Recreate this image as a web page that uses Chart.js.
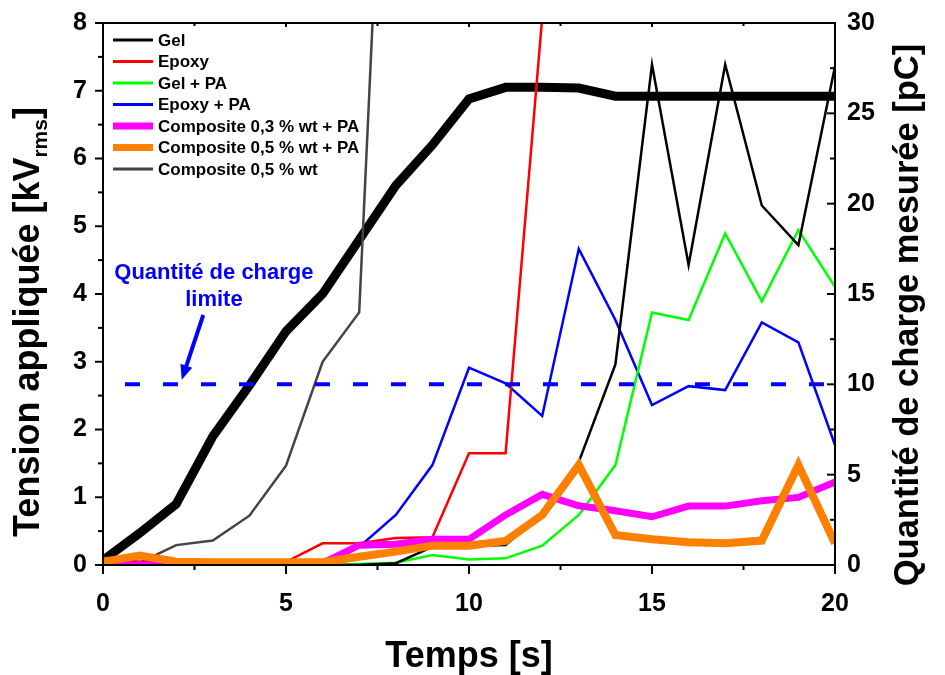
<!DOCTYPE html>
<html lang="fr">
<head>
<meta charset="utf-8">
<title>Tension appliquée et quantité de charge mesurée</title>
<script src="https://cdn.jsdelivr.net/npm/chart.js@4.4.1/dist/chart.umd.min.js"></script>
<style>
  html, body { margin: 0; padding: 0; background: #fff; }
  #wrap { width: 945px; height: 675px; }
</style>
</head>
<body>
<div id="wrap"><canvas id="chart" width="945" height="675"></canvas></div>
<script>
/**
 * Data
 */
const times = [0, 1, 2, 3, 4, 5, 6, 7, 8, 9, 10, 11, 12, 13, 14, 15, 16, 17, 18, 19, 20];

// Applied voltage [kV rms] - left axis
const voltage = [0.07, 0.47, 0.9, 1.9, 2.65, 3.45, 4.0, 4.8, 5.6, 6.2, 6.88, 7.05, 7.05, 7.04, 6.92, 6.92, 6.92, 6.92, 6.92, 6.92, 6.92];

// Measured charge [pC] - right axis
const gel = [0, 0, 0, 0, 0, 0, 0, 0, 0.1, 1.0, 1.05, 1.1, 2.8, 5.7, 11.1, 27.7, 16.6, 27.7, 19.9, 17.7, 27.6];
const epoxy = [0.4, 0.18, 0.18, 0.18, 0.18, 0.18, 1.2, 1.2, 1.5, 1.53, 6.18, 6.18, 30.3, null, null, null, null, null, null, null, null];
const gelPA = [0, 0, 0, 0, 0, 0, 0, 0.05, 0.13, 0.55, 0.31, 0.37, 1.07, 2.77, 5.53, 13.98, 13.56, 18.36, 14.6, 18.54, 15.4];
const epoxyPA = [0, 0, 0, 0, 0, 0, 0, 1.0, 2.77, 5.53, 10.92, 10.05, 8.25, 17.5, 13.56, 8.85, 9.9, 9.68, 13.43, 12.32, 6.64];
const composite03PA = [0, 0, 0, 0, 0, 0, 0.1, 1.1, 1.15, 1.42, 1.42, 2.77, 3.91, 3.28, 3.0, 2.67, 3.26, 3.26, 3.56, 3.74, 4.6];
const composite05PA = [0.18, 0.52, 0.18, 0.15, 0.15, 0.15, 0.15, 0.46, 0.74, 1.07, 1.07, 1.33, 2.77, 5.53, 1.66, 1.42, 1.26, 1.2, 1.35, 5.53, 1.2];
const composite05 = [0.13, 0.13, 1.1, 1.35, 2.73, 5.5, 11.25, 13.98, 58, null, null, null, null, null, null, null, null, null, null, null, null];

// Charge limit (dashed line)
const limitTimes = [0.6, 20];
const limitCharge = [10, 10];

// Tick labels
const timeTicks = [0, 5, 10, 15, 20];
const voltageTicks = [0, 1, 2, 3, 4, 5, 6, 7, 8];
const chargeTicks = [0, 5, 10, 15, 20, 25, 30];

const seriesNames = ['Gel', 'Epoxy', 'Gel + PA', 'Epoxy + PA', 'Composite 0,3 % wt + PA', 'Composite 0,5 % wt + PA', 'Composite 0,5 % wt'];

const FONT = '"Liberation Sans", Arial, Helvetica, sans-serif';

document.addEventListener('DOMContentLoaded', function() {
    initializeChart();
});

/**
 * Pair x and y arrays into Chart.js points
 */
function toPoints(xs, ys) {
    return xs.map((x, i) => ({ x: x, y: ys[i] }));
}

/**
 * Build one line dataset
 */
function lineSet(label, xs, ys, color, width, axis, extra) {
    return Object.assign({
        label: label,
        data: toPoints(xs, ys),
        borderColor: color,
        backgroundColor: color,
        borderWidth: width,
        pointRadius: 0,
        tension: 0,
        fill: false,
        spanGaps: false,
        yAxisID: axis,
        borderJoinStyle: 'miter',
        borderCapStyle: 'butt'
    }, extra || {});
}

/**
 * Fix the box size of a scale and drop its label overflow padding
 */
function fixBox(size, horizontal) {
    return function(s) {
        if (horizontal) {
            s.height = size;
        } else {
            s.width = size;
        }
        s.paddingTop = 0;
        s.paddingBottom = 0;
        s.paddingLeft = 0;
        s.paddingRight = 0;
    };
}

/**
 * Frame, minor ticks, axis titles, legend and the note
 */
const decorPlugin = {
    id: 'decor',
    afterDatasetsDraw(chart) {
        const ctx = chart.ctx;
        const a = chart.chartArea;
        const sx = chart.scales.x;
        const sy = chart.scales.y;
        const sy2 = chart.scales.y2;

        ctx.save();
        ctx.strokeStyle = '#000';
        ctx.lineWidth = 2;
        ctx.strokeRect(a.left, a.top, a.right - a.left, a.bottom - a.top);

        const seg = (x1, y1, x2, y2) => {
            ctx.beginPath();
            ctx.moveTo(x1, y1);
            ctx.lineTo(x2, y2);
            ctx.stroke();
        };

        // time axis: majors + halfway minors
        timeTicks.forEach((t, i) => {
            const px = sx.getPixelForValue(t);
            seg(px, a.bottom, px, a.bottom + 9);
            seg(px, a.top, px, a.top + 4);
            if (i < timeTicks.length - 1) {
                const mx = sx.getPixelForValue((t + timeTicks[i + 1]) / 2);
                seg(mx, a.bottom, mx, a.bottom + 5);
                seg(mx, a.top, mx, a.top + 3);
            }
        });

        // voltage axis (outside)
        voltageTicks.forEach((v, i) => {
            const py = sy.getPixelForValue(v);
            seg(a.left - 8, py, a.left, py);
            if (i < voltageTicks.length - 1) {
                const my = sy.getPixelForValue((v + voltageTicks[i + 1]) / 2);
                seg(a.left - 5, my, a.left, my);
            }
        });

        // charge axis (inside)
        chargeTicks.forEach((v, i) => {
            const py = sy2.getPixelForValue(v);
            seg(a.right - 8, py, a.right, py);
            if (i < chargeTicks.length - 1) {
                const my = sy2.getPixelForValue((v + chargeTicks[i + 1]) / 2);
                seg(a.right - 5, my, a.right, my);
            }
        });

        drawTitles(ctx, a);
        drawLegend(ctx, chart);
        drawNote(ctx, sx, sy, sy2);
        ctx.restore();
    }
};

/**
 * Axis titles (left title has a subscript)
 */
function drawTitles(ctx, a) {
    ctx.fillStyle = '#000';

    // x title
    ctx.font = 'bold 36px ' + FONT;
    ctx.textAlign = 'center';
    ctx.textBaseline = 'alphabetic';
    ctx.fillText('Temps [s]', (a.left + a.right) / 2, 667);

    // left title
    const main = 'Tension appliquée [kV';
    ctx.save();
    ctx.translate(39, 322);
    ctx.rotate(-Math.PI / 2);
    ctx.font = 'bold 36px ' + FONT;
    const wMain = ctx.measureText(main).width;
    const wEnd = ctx.measureText(']').width;
    ctx.font = 'bold 21px ' + FONT;
    const wSub = ctx.measureText('rms').width;
    let x0 = -(wMain + wSub + wEnd) / 2;
    ctx.textAlign = 'left';
    ctx.font = 'bold 36px ' + FONT;
    ctx.fillText(main, x0, 0);
    x0 += wMain;
    ctx.font = 'bold 21px ' + FONT;
    ctx.fillText('rms', x0, 8);
    x0 += wSub;
    ctx.font = 'bold 36px ' + FONT;
    ctx.fillText(']', x0, 0);
    ctx.restore();

    // right title
    ctx.save();
    ctx.translate(918, 315);
    ctx.rotate(-Math.PI / 2);
    ctx.font = 'bold 34.5px ' + FONT;
    ctx.textAlign = 'center';
    ctx.fillText('Quantité de charge mesurée [pC]', 0, 0);
    ctx.restore();
}

/**
 * Legend inside the plot, top-left
 */
function drawLegend(ctx, chart) {
    const legendWidths = [3, 3, 3, 3, 7, 7, 3];
    const x0 = chart.chartArea.left + 10;
    const y0 = chart.chartArea.top + 17;
    const rowH = 21.5;

    ctx.font = 'bold 17px ' + FONT;
    ctx.textAlign = 'left';
    ctx.textBaseline = 'middle';
    seriesNames.forEach((name, i) => {
        const ds = chart.data.datasets.find(d => d.label === name);
        const y = y0 + i * rowH;
        ctx.strokeStyle = ds.borderColor;
        ctx.lineWidth = legendWidths[i];
        ctx.beginPath();
        ctx.moveTo(x0, y);
        ctx.lineTo(x0 + 40, y);
        ctx.stroke();
        ctx.fillStyle = '#000';
        ctx.fillText(name, x0 + 45, y + 1);
    });
}

/**
 * "Quantité de charge limite" label with arrow
 */
function drawNote(ctx, sx, sy, sy2) {
    const noteX = sx.getPixelForValue(3.03);
    ctx.fillStyle = '#0000ff';
    ctx.strokeStyle = '#0000ff';
    ctx.font = 'bold 22px ' + FONT;
    ctx.textAlign = 'center';
    ctx.textBaseline = 'alphabetic';
    ctx.fillText('Quantité de charge', noteX, sy.getPixelForValue(4.22));
    ctx.fillText('limite', noteX, sy.getPixelForValue(3.82));

    const x1 = sx.getPixelForValue(2.74), y1 = sy.getPixelForValue(3.69);
    const x2 = sx.getPixelForValue(2.15), y2 = sy2.getPixelForValue(10.25);
    const ang = Math.atan2(y2 - y1, x2 - x1);
    const head = 16;
    ctx.lineWidth = 4;
    ctx.beginPath();
    ctx.moveTo(x1, y1);
    ctx.lineTo(x2 - Math.cos(ang) * head * 0.8, y2 - Math.sin(ang) * head * 0.8);
    ctx.stroke();
    ctx.beginPath();
    ctx.moveTo(x2, y2);
    ctx.lineTo(x2 - head * Math.cos(ang - 0.4), y2 - head * Math.sin(ang - 0.4));
    ctx.lineTo(x2 - head * Math.cos(ang + 0.4), y2 - head * Math.sin(ang + 0.4));
    ctx.closePath();
    ctx.fill();
}

/**
 * Initialize the chart
 */
function initializeChart() {
    const ctx = document.getElementById('chart').getContext('2d');

    // first dataset is drawn on top
    const datasets = [
        lineSet('limit', limitTimes, limitCharge, '#0000ff', 4, 'y2', { borderDash: [15, 23] }),
        lineSet(seriesNames[5], times, composite05PA, '#ff8000', 8, 'y2'),
        lineSet(seriesNames[4], times, composite03PA, '#ff00ff', 7, 'y2'),
        lineSet(seriesNames[0], times, gel, '#000000', 2.5, 'y2'),
        lineSet(seriesNames[1], times, epoxy, '#ff0000', 2.5, 'y2'),
        lineSet(seriesNames[2], times, gelPA, '#00ff00', 2.5, 'y2'),
        lineSet(seriesNames[3], times, epoxyPA, '#0000ff', 2.5, 'y2'),
        lineSet(seriesNames[6], times, composite05, '#444444', 2.5, 'y2'),
        lineSet('Tension', times, voltage, '#000000', 9, 'y')
    ];

    const tickFont = { family: FONT, size: 25, weight: 'bold' };

    new Chart(ctx, {
        type: 'line',
        data: { datasets: datasets },
        options: {
            responsive: false,
            devicePixelRatio: 1,
            animation: false,
            layout: { padding: { top: 23, left: 0, right: 0, bottom: 0 } },
            plugins: {
                legend: { display: false },
                tooltip: { enabled: false }
            },
            scales: {
                x: {
                    type: 'linear',
                    min: 0,
                    max: 20,
                    afterBuildTicks: s => { s.ticks = timeTicks.map(v => ({ value: v })); },
                    afterFit: fixBox(110, true),
                    grid: { display: false, drawTicks: false },
                    border: { display: false },
                    ticks: { font: tickFont, color: '#000', padding: 24, maxRotation: 0 }
                },
                y: {
                    position: 'left',
                    min: 0,
                    max: 8,
                    afterBuildTicks: s => { s.ticks = voltageTicks.map(v => ({ value: v })); },
                    afterFit: fixBox(103, false),
                    grid: { display: false, drawTicks: false },
                    border: { display: false },
                    ticks: { font: tickFont, color: '#000', padding: 16 }
                },
                y2: {
                    position: 'right',
                    min: 0,
                    max: 30,
                    afterBuildTicks: s => { s.ticks = chargeTicks.map(v => ({ value: v })); },
                    afterFit: fixBox(110, false),
                    grid: { display: false, drawTicks: false },
                    border: { display: false },
                    ticks: { font: tickFont, color: '#000', padding: 12 }
                }
            }
        },
        plugins: [decorPlugin]
    });
}
</script>
</body>
</html>
